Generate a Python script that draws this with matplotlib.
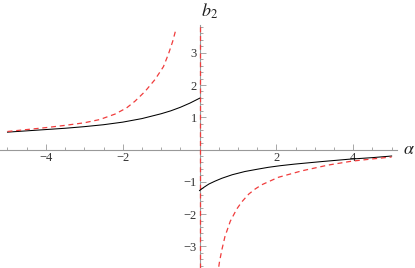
import numpy as np
import matplotlib
matplotlib.use("Agg")
import matplotlib.pyplot as plt
from matplotlib.ticker import MultipleLocator, FixedLocator

plt.rcParams['font.family'] = ['Liberation Serif', 'DejaVu Serif']
plt.rcParams['mathtext.fontset'] = 'stix'
plt.rcParams['axes.unicode_minus'] = True

# values
alpha_black_left = [-5, -4.5, -4, -3.5, -3, -2.5, -2, -1.5, -1, -0.75, -0.5, -0.25, 0]
b2_black_left = [0.54, 0.58, 0.62, 0.66, 0.71, 0.77, 0.85, 0.96, 1.11, 1.20, 1.31, 1.44, 1.59]

alpha_black_right = [0, 0.1, 0.24, 0.4, 0.58, 0.85, 1.18, 1.5, 1.79, 2.1, 2.48, 3.2, 3.88, 4.5, 5.0]
b2_black_right = [-1.27, -1.18, -1.07, -0.98, -0.89, -0.78, -0.68, -0.61, -0.55, -0.50, -0.45, -0.37, -0.30, -0.25, -0.20]

alpha_red_left = [-5, -4.5, -4, -3.5, -3, -2.6, -2.2, -1.9, -1.68, -1.42, -1.16, -0.94, -0.81, -0.7, -0.61]
b2_red_left = [0.56, 0.62, 0.68, 0.75, 0.83, 0.93, 1.10, 1.29, 1.50, 1.80, 2.17, 2.57, 2.96, 3.35, 3.75]

alpha_red_right = [0.5, 0.52, 0.58, 0.66, 0.80, 0.97, 1.10, 1.28, 1.45, 1.62, 2.05, 2.66, 3.35, 3.96, 4.5, 5.0]
b2_red_right = [-3.63, -3.47, -3.11, -2.70, -2.22, -1.84, -1.62, -1.38, -1.22, -1.09, -0.86, -0.66, -0.48, -0.36, -0.29, -0.23]

x_major = [-4, -2, 2, 4]
y_major = [-3, -2, -1, 1, 2, 3]

fig = plt.figure(figsize=(4.15, 2.68), dpi=100)
ax = fig.add_axes([0, 0, 397 / 415, 243 / 268])

red = '#f03c3c'
ax.axvline(0, color=red, lw=0.9, ls=(0, (4, 3)), zorder=3)
ax.plot(alpha_black_left, b2_black_left, color='black', lw=0.75, zorder=4)
ax.plot(alpha_black_right, b2_black_right, color='black', lw=0.75, zorder=4)
ax.plot(alpha_red_left, b2_red_left, color=red, lw=0.9, ls=(0, (4, 3)), zorder=4)
ax.plot(alpha_red_right, b2_red_right, color=red, lw=0.9, ls=(0, (4, 3)), zorder=4)

ax.set_xlim(-5.195, 5.14)
ax.set_ylim(-3.67, 3.86)

ax.spines['left'].set_position('zero')
ax.spines['bottom'].set_position('zero')
ax.spines['right'].set_visible(False)
ax.spines['top'].set_visible(False)
for s in ('left', 'bottom'):
    ax.spines[s].set_color('#999999')
    ax.spines[s].set_linewidth(0.8)
    ax.spines[s].set_zorder(2)

ax.xaxis.set_major_locator(FixedLocator(x_major))
ax.yaxis.set_major_locator(FixedLocator(y_major))
ax.xaxis.set_minor_locator(MultipleLocator(0.5))
ax.yaxis.set_minor_locator(MultipleLocator(0.2))
ax.tick_params(which='both', direction='in', colors='#999999', labelcolor='#333333',
               labelsize=9, width=0.6)
ax.tick_params(which='major', length=4)
ax.tick_params(which='minor', length=2.5)
ax.tick_params(axis='x', pad=1.5)
ax.tick_params(axis='y', pad=2)
ax.set_xticklabels([f'\u2212{-v}' if v < 0 else str(v) for v in x_major])
ax.set_yticklabels([f'\u2212{-v}' if v < 0 else str(v) for v in y_major])

fig.text(403 / 415, 1 - 150 / 268, r'$\alpha$', fontsize=13, ha='left', va='center', color='#222222')
fig.text(210 / 415, 1 - 11 / 268, r'$b_2$', fontsize=13, ha='center', va='center', color='#222222')

fig.savefig('out.png', dpi=100)
